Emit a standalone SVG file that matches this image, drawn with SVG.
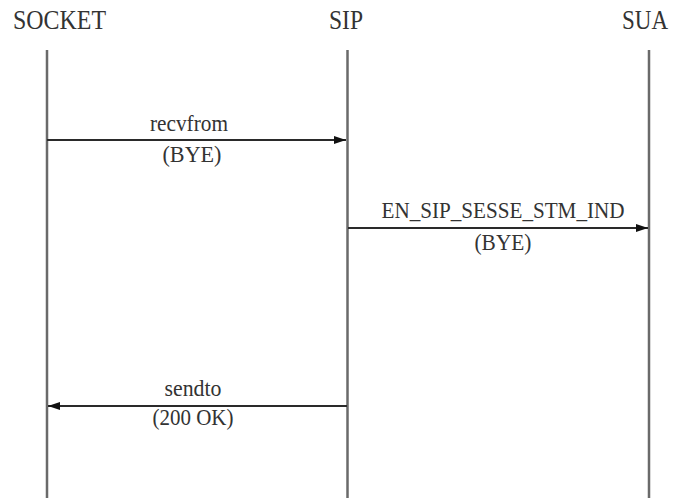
<svg xmlns="http://www.w3.org/2000/svg" width="677" height="500" viewBox="0 0 677 500">
  <style>
    .title { font-family: "Liberation Serif", "Times New Roman", serif; font-size: 28px; fill: #333; text-anchor: middle; }
    .label { font-family: "Liberation Serif", "Times New Roman", serif; font-size: 23px; fill: #333; text-anchor: middle; }
    .lifeline { stroke: #6a6a6a; stroke-width: 2.5; fill: none; }
    .msg { stroke: #2a2a2a; stroke-width: 2; fill: none; }
  </style>
  <defs>
    <marker id="arrow" viewBox="0 0 12 8" refX="12" refY="4" markerWidth="12" markerHeight="8" markerUnits="userSpaceOnUse" orient="auto">
      <path d="M0,0 L12,4 L0,8 Z" fill="#111"/>
    </marker>
  </defs>
  <rect width="677" height="500" fill="#fff"/>

  <!-- participants -->
  <g id="socket">
    <text class="title" x="59.5" y="29" textLength="93" lengthAdjust="spacingAndGlyphs">SOCKET</text>
    <line class="lifeline" x1="47" y1="50" x2="47" y2="498"/>
  </g>
  <g id="sip">
    <text class="title" x="346" y="29" textLength="34" lengthAdjust="spacingAndGlyphs">SIP</text>
    <line class="lifeline" x1="347.5" y1="50" x2="347.5" y2="498"/>
  </g>
  <g id="sua">
    <text class="title" x="645" y="29" textLength="46" lengthAdjust="spacingAndGlyphs">SUA</text>
    <line class="lifeline" x1="649" y1="50" x2="649" y2="498"/>
  </g>

  <!-- messages -->
  <g id="connectors">
    <line class="msg" x1="47" y1="140" x2="346" y2="140" marker-end="url(#arrow)"/>
    <line class="msg" x1="348" y1="228" x2="648" y2="228" marker-end="url(#arrow)"/>
    <line class="msg" x1="347" y1="406" x2="48" y2="406" marker-end="url(#arrow)"/>
  </g>

  <g id="labels">
    <text class="label" x="189" y="131" textLength="78" lengthAdjust="spacingAndGlyphs">recvfrom</text>
    <text class="label" x="192" y="162" textLength="59" lengthAdjust="spacingAndGlyphs">(BYE)</text>
    <text class="label" x="503" y="218" textLength="243" lengthAdjust="spacingAndGlyphs">EN_SIP_SESSE_STM_IND</text>
    <text class="label" x="503" y="250" textLength="57" lengthAdjust="spacingAndGlyphs">(BYE)</text>
    <text class="label" x="193" y="396" textLength="57" lengthAdjust="spacingAndGlyphs">sendto</text>
    <text class="label" x="193" y="425" textLength="81" lengthAdjust="spacingAndGlyphs">(200 OK)</text>
  </g>
</svg>
